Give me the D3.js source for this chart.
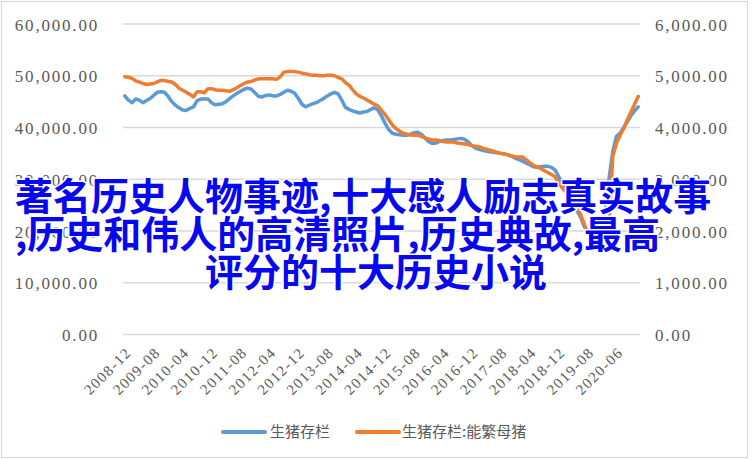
<!DOCTYPE html>
<html><head><meta charset="utf-8">
<script src="https://cdn.jsdelivr.net/npm/d3@7"></script>
<style>html,body{margin:0;padding:0;background:#fff;}svg{display:block;}</style>
</head><body>
<svg id="chart" width="753" height="460"></svg>
<script>
// ---------- DATA ----------
// monthly categories 2008-12 .. 2020-12 (2020-01 and 2020-02 not reported)
const categories = (function(){
  const out = ["2008-12"];
  for (let y = 2009; y <= 2020; y++) {
    for (let m = 1; m <= 12; m++) {
      if (y === 2020 && (m === 1 || m === 2)) continue;
      out.push(y + "-" + String(m).padStart(2, "0"));
    }
  }
  return out;
})();
const tickLabels = ["2008-12","2009-08","2010-04","2010-12","2011-08","2012-04","2012-12","2013-08","2014-04","2014-12","2015-08","2016-04","2016-12","2017-08","2018-04","2018-12","2019-08","2020-06"];
const leftTicks = [0,10000,20000,30000,40000,50000,60000];
const rightTicks = [0,1000,2000,3000,4000,5000,6000];
const seriesNames = ["生猪存栏","生猪存栏:能繁母猪"];
// 生猪存栏 (left axis)
const hogStock = [
46100,45300,44800,45500,45300,44800,45200,45600,46200,46800,
46900,46800,46000,45000,44300,43800,43400,43300,43700,44000,
45200,45500,45500,45500,44800,44400,44500,44600,45000,45600,
46100,46600,47000,47400,47600,47400,46700,46000,45900,46200,
46300,46100,46100,46400,46800,47200,47000,46600,45600,44500,
44000,44300,44600,44800,45200,45600,46100,46500,46800,46500,
45300,43900,43500,43200,43000,42800,43000,43100,43500,43800,
43400,42200,40800,39600,38900,38700,38600,38500,38500,38700,
39000,39100,38700,38000,37300,36900,37000,37300,37500,37600,
37600,37700,37800,37900,37700,37200,36500,36000,35800,35600,
35400,35300,35200,35100,35000,34900,34700,34400,34100,33800,
33500,33100,32800,32400,32300,32400,32500,32500,32300,31800,
30500,29200,28200,27200,25500,24000,22800,21000,19800,19300,
19500,20300,22000,24000,30500,35500,38300,38900,40000,41100,
42300,43200,44000];
// 生猪存栏:能繁母猪 (right axis)
const sowStock = [
4980,4970,4950,4900,4880,4850,4830,4840,4850,4880,
4910,4910,4890,4880,4830,4760,4720,4680,4640,4590,
4690,4690,4670,4750,4750,4730,4720,4720,4710,4700,
4730,4770,4810,4850,4880,4890,4920,4940,4940,4940,
4940,4940,4930,4980,5070,5080,5080,5080,5070,5050,
5040,5020,5010,5010,5000,5000,5010,5010,5000,4970,
4940,4870,4820,4730,4650,4600,4570,4530,4490,4450,
4420,4330,4250,4150,4050,3980,3930,3890,3870,3860,
3850,3850,3830,3800,3780,3760,3760,3750,3730,3720,
3720,3720,3700,3690,3680,3670,3650,3640,3630,3600,
3580,3560,3540,3520,3500,3490,3470,3450,3430,3430,
3430,3380,3320,3270,3240,3210,3170,3130,3090,3050,
2930,2830,2760,2710,2600,2470,2330,2150,1960,1910,
1920,1960,2010,2090,2200,3450,3700,3850,3980,4150,
4300,4450,4600];
const overlayLines = ["著名历史人物事迹,十大感人励志真实故事", ",历史和伟人的高清照片,历史典故,最高", "评分的十大历史小说"];

// ---------- DRAW ----------
const svg = d3.select("#chart");
const colors = ["#5B9BD5", "#ED7D31"];
const plot = {left: 123, right: 640, top: 24, bottom: 334.5};
const labelFont = "'Liberation Serif','DejaVu Serif',serif";

svg.append("rect").attr("x",1.5).attr("y",1.5).attr("width",746).attr("height",456)
  .attr("fill","#fff").attr("stroke","#d9d9d9").attr("stroke-width",1.2);

const x = d3.scalePoint().domain(categories).range([plot.left, plot.right]).padding(0.5);
const yL = d3.scaleLinear().domain([0,60000]).range([plot.bottom, plot.top]);
const yR = d3.scaleLinear().domain([0,6000]).range([plot.bottom, plot.top]);
const fmt = d3.format(",.2f");

// gridlines
svg.append("g").selectAll("line").data(leftTicks).join("line")
  .attr("x1", plot.left).attr("x2", plot.right)
  .attr("y1", d => yL(d)).attr("y2", d => yL(d))
  .attr("stroke", "#d9d9d9").attr("stroke-width", 1.3);

// left axis labels
const axL = d3.axisLeft(yL).tickValues(leftTicks).tickFormat(fmt).tickSize(0).tickPadding(0);
const gL = svg.append("g").attr("transform", "translate(99,0)").call(axL);
gL.select(".domain").remove();
gL.selectAll("text").attr("font-family", labelFont).attr("font-size", 17)
  .attr("letter-spacing", "1.8px").attr("fill", "#595959").attr("dy", "0.36em");

// right axis labels
const axR = d3.axisRight(yR).tickValues(rightTicks).tickFormat(fmt).tickSize(0).tickPadding(0);
const gR = svg.append("g").attr("transform", "translate(655,0)").call(axR);
gR.select(".domain").remove();
gR.selectAll("text").attr("font-family", labelFont).attr("font-size", 17)
  .attr("letter-spacing", "1.8px").attr("fill", "#595959").attr("dy", "0.36em");

// x axis labels
const axX = d3.axisBottom(x).tickValues(tickLabels).tickSize(0).tickPadding(0);
const gX = svg.append("g").attr("transform", `translate(0,${plot.bottom})`).call(axX);
gX.select(".domain").remove();
gX.selectAll("text")
  .attr("font-family", labelFont).attr("font-size", 15).attr("letter-spacing", "1.4px")
  .attr("fill", "#595959").attr("text-anchor", "end").attr("dy", null).attr("y", null)
  .attr("transform", "translate(7,19) rotate(-45)");

// lines
const lineL = d3.line().x((d,i) => x(categories[i])).y(d => yL(d)).curve(d3.curveLinear);
const lineR = d3.line().x((d,i) => x(categories[i])).y(d => yR(d)).curve(d3.curveLinear);
svg.append("path").datum(hogStock).attr("d", lineL).attr("fill","none")
  .attr("stroke", colors[0]).attr("stroke-width", 3.5).attr("stroke-linejoin","round").attr("stroke-linecap","round");
svg.append("path").datum(sowStock).attr("d", lineR).attr("fill","none")
  .attr("stroke", colors[1]).attr("stroke-width", 3.5).attr("stroke-linejoin","round").attr("stroke-linecap","round");

// legend
const legendItems = [{x: 223, w: 42, tx: 270}, {x: 357, w: 42, tx: 402}];
const lg = svg.append("g");
seriesNames.forEach((name, i) => {
  const it = legendItems[i];
  lg.append("line").attr("x1", it.x).attr("x2", it.x + it.w).attr("y1", 432).attr("y2", 432)
    .attr("stroke", colors[i]).attr("stroke-width", 4).attr("stroke-linecap","round");
  lg.append("text").attr("x", it.tx).attr("y", 432).attr("dy","0.36em")
    .attr("font-family","'Noto Sans CJK SC',sans-serif").attr("font-size",15)
    .attr("fill","#595959").text(name);
});

// overlay title text
const ov = [{x: 15, y: 209.5}, {x: 15, y: 248}, {x: 205, y: 286}];
svg.append("g").selectAll("text").data(overlayLines).join("text")
  .attr("x", (d,i) => ov[i].x).attr("y", (d,i) => ov[i].y)
  .attr("font-family","'Noto Sans CJK SC',sans-serif").attr("font-size", 38).attr("font-weight", 700)
  .attr("fill","#0808f0").attr("stroke","#ffffff").attr("stroke-width",3)
  .attr("paint-order","stroke").attr("stroke-linejoin","round")
  .text(d => d);
</script>
</body></html>
